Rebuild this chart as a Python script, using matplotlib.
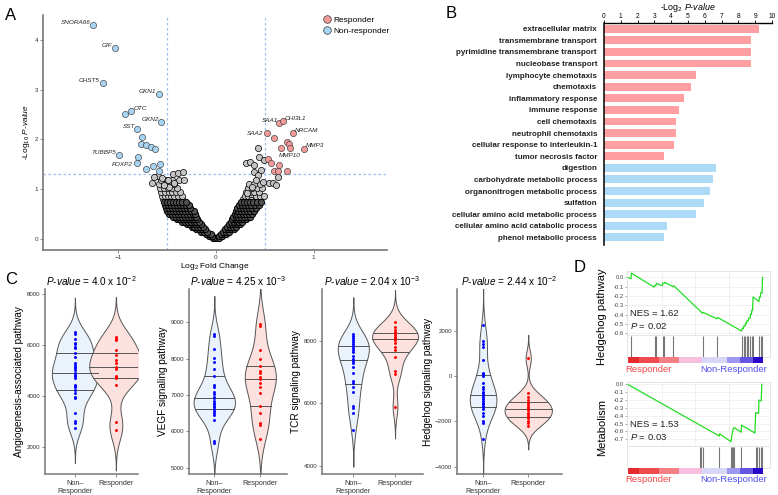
import numpy as np
import matplotlib
matplotlib.use('Agg')
import matplotlib.pyplot as plt
import seaborn as sns
from matplotlib.lines import Line2D

plt.rcParams['font.family'] = ['Liberation Sans', 'DejaVu Sans']
plt.rcParams['mathtext.fontset'] = 'custom'
plt.rcParams['mathtext.rm'] = 'Liberation Sans'
plt.rcParams['mathtext.it'] = 'Liberation Sans:italic'
plt.rcParams['mathtext.bf'] = 'Liberation Sans:bold'

# ---------------- A: volcano ----------------
# gray (non significant) genes, row by row: (-log10 p, [log2 fc ...])
gray_rows_dense = [
    (0.02, [-0.03, -0.01, 0.01, 0.03]),
    (0.06, [-0.07, -0.04, 0.03, 0.06]),
    (0.10, [-0.10, -0.07, -0.05, 0.05, 0.08, 0.10]),
    (0.15, [-0.15, -0.12, -0.09, 0.07, 0.10, 0.13]),
    (0.20, [-0.20, -0.17, -0.14, -0.11, 0.09, 0.12, 0.15, 0.18]),
    (0.25, [-0.25, -0.22, -0.19, -0.16, -0.13, 0.11, 0.14, 0.17, 0.20]),
    (0.30, [-0.30, -0.27, -0.24, -0.21, -0.18, -0.15, 0.13, 0.16, 0.19, 0.22, 0.25]),
    (0.35, [-0.35, -0.32, -0.29, -0.26, -0.23, -0.20, -0.17, 0.15, 0.18, 0.21, 0.24, 0.27]),
    (0.40, [-0.40, -0.37, -0.34, -0.31, -0.28, -0.25, -0.22, -0.19, 0.16, 0.19, 0.22, 0.25, 0.28, 0.31]),
    (0.45, [-0.44, -0.41, -0.38, -0.35, -0.32, -0.29, -0.26, -0.23, -0.20, 0.17, 0.20, 0.23, 0.26, 0.29, 0.32, 0.35]),
    (0.50, [-0.48, -0.45, -0.42, -0.39, -0.36, -0.33, -0.30, -0.27, -0.24, -0.21, 0.19, 0.22, 0.25, 0.28, 0.31, 0.34, 0.37]),
    (0.56, [-0.50, -0.47, -0.44, -0.41, -0.38, -0.35, -0.32, -0.29, -0.26, -0.23, 0.20, 0.23, 0.26, 0.29, 0.32, 0.35, 0.39]),
    (0.62, [-0.51, -0.48, -0.45, -0.42, -0.39, -0.36, -0.33, -0.30, -0.27, 0.22, 0.25, 0.28, 0.31, 0.34, 0.37, 0.41]),
    (0.68, [-0.52, -0.49, -0.46, -0.43, -0.40, -0.37, -0.34, -0.31, -0.28, 0.24, 0.27, 0.30, 0.33, 0.36, 0.40, 0.44]),
    (0.74, [-0.53, -0.50, -0.47, -0.44, -0.41, -0.38, -0.35, -0.31, 0.26, 0.29, 0.32, 0.35, 0.38, 0.42, 0.46]),
]
gray_rows_sparse = [
    (0.80, [-0.54, -0.51, -0.48, -0.45, -0.42, -0.39, -0.35, 0.28, 0.31, 0.34, 0.37, 0.41, 0.45]),
    (0.87, [-0.55, -0.52, -0.49, -0.46, -0.43, -0.39, -0.35, 0.30, 0.33, 0.37, 0.41, 0.45, 0.49]),
    (0.94, [-0.56, -0.52, -0.48, -0.45, -0.41, -0.37, 0.31, 0.35, 0.39, 0.44]),
    (1.02, [-0.57, -0.53, -0.49, -0.45, -0.40, 0.33, 0.37, 0.42, 0.47]),
    (1.10, [-0.58, -0.53, -0.48, -0.43, 0.34, 0.39, 0.45]),
    (1.18, [-0.56, -0.50, -0.45, -0.38]),
]
gray_extra_fc = [-0.653, -0.595, -0.548, -0.49, -0.44, -0.39, -0.34, -0.33, -0.425, -0.636, -0.476, -0.527,
                 0.425, 0.306, 0.35, 0.39, 0.44, 0.49, 0.39, 0.425, 0.46, 0.41, 0.37, 0.54, 0.58, 0.63, 0.61,
                 0.48, 0.32, 0.36]
gray_extra_p = [1.12, 1.27, 1.22, 1.19, 1.31, 1.32, 1.34, 1.19, 1.13, 1.25, 1.05, 1.09,
                1.82, 1.52, 1.55, 1.49, 1.65, 1.59, 1.35, 1.29, 1.39, 1.19, 1.05, 1.12, 1.13, 1.25, 1.09,
                1.15, 0.92, 0.78]

nr_fc = [-1.255, -1.03, -1.16, -0.58, -0.935, -0.874, -0.558, -0.813, -0.762, -0.769, -0.718, -0.670,
         -0.629, -0.997, -0.799, -0.813, -0.714, -0.640, -0.575, -0.585]
nr_p = [4.30, 3.83, 3.13, 2.91, 2.51, 2.57, 2.35, 2.22, 2.05, 1.90, 1.88, 1.85,
        1.81, 1.69, 1.64, 1.52, 1.41, 1.47, 1.50, 1.36]
r_fc = [0.646, 0.687, 0.789, 0.524, 0.592, 0.90, 0.731, 0.745, 0.758, 0.663, 0.537, 0.561, 0.64,
        0.589, 0.636, 0.724]
r_p = [2.33, 2.37, 2.13, 2.12, 2.03, 1.80, 1.94, 1.90, 1.82, 1.82, 1.60, 1.52, 1.48,
       1.37, 1.36, 1.37]

# gene label: (name, fc, p, dx, dy, ha, va)
gene_labels = [
    ("SNORA66", -1.255, 4.30, -2, 0, 'right', 'bottom'),
    ("GIF", -1.03, 3.83, -2, 0, 'right', 'bottom'),
    ("CHST5", -1.16, 3.13, -2, 0, 'right', 'bottom'),
    ("GKN1", -0.58, 2.91, -2, 0, 'right', 'bottom'),
    ("OTC", -0.874, 2.57, 2, 0, 'left', 'bottom'),
    ("GKN2", -0.558, 2.35, -2, 0, 'right', 'bottom'),
    ("SST", -0.813, 2.22, -1, 0, 'right', 'bottom'),
    ("TUBBP5", -0.997, 1.69, -2, 0, 'right', 'bottom'),
    ("FOXP2", -0.813, 1.52, -3, -1, 'right', 'center'),
    ("SAA1", 0.646, 2.33, -1, 0, 'right', 'bottom'),
    ("CHI3L1", 0.687, 2.37, 1, 0, 'left', 'bottom'),
    ("SAA2", 0.524, 2.12, -3, 0, 'right', 'center'),
    ("NRCAM", 0.789, 2.13, 1, 0, 'left', 'bottom'),
    ("MMP3", 0.90, 1.80, 1, 1, 'left', 'bottom'),
    ("MMP10", 0.758, 1.82, 0, -3, 'center', 'top'),
]

# ---------------- B: GO terms ----------------
go_terms = ["extracellular matrix", "transmembrane transport", "pyrimidine transmembrane transport",
            "nucleobase transport", "lymphocyte chemotaxis", "chemotaxis", "inflammatory response",
            "immune response", "cell chemotaxis", "neutrophil chemotaxis",
            "cellular response to interleukin-1", "tumor necrosis factor", "digestion",
            "carbohydrate metabolic process", "organonitrogen metabolic process", "sulfation",
            "cellular amino acid metabolic process", "cellular amino acid catabolic process",
            "phenol metabolic process"]
go_vals = [9.23, 8.73, 8.73, 8.73, 5.50, 5.18, 4.74, 4.45, 4.29, 4.27, 4.15, 3.55,
           6.65, 6.47, 6.31, 5.93, 5.48, 3.77, 3.59]
go_group = ["R"] * 12 + ["NR"] * 7

# ---------------- C: pathway scores ----------------
c1_nr = [6485, 6419, 6210, 6078, 6015, 5897, 5858, 5662, 5505, 5270, 5192, 5137, 5074, 5007, 4902,
         4811, 4772, 4682, 4419, 4380, 4353, 4223, 4118, 3961, 3898, 3334, 3020, 2942, 2722]
c1_r = [6289, 6234, 6183, 5791, 5583, 5399, 5270, 5113, 5058, 4772, 4721, 4682, 4408, 2981, 2655]
c2_nr = [8681, 8625, 8276, 8011, 7900, 7725, 7523, 7266, 7230, 7092, 7028, 6954, 6908, 6844, 6789,
         6752, 6697, 6660, 6614, 6568, 6513, 6449, 6311, 5742, 5687]
c2_r = [8956, 8901, 8240, 7983, 7799, 7670, 7597, 7505, 7432, 7321, 7211, 7046, 6697, 6495, 6220,
        6183, 5779]
c3_nr = [8218, 8154, 8090, 8026, 7962, 7888, 7834, 7781, 7706, 7653, 7514, 7429, 7365, 7280, 7152,
         6981, 6725, 6661, 6512, 6373, 5915, 5851, 5680, 5147]
c3_r = [8612, 8432, 8346, 8293, 8240, 8186, 8133, 8080, 8026, 7920, 7813, 7706, 7493, 7045, 6938,
        5893]
c4_nr = [2252, 1560, 1413, 1295, 706, 147, 88, 0, -294, -471, -589, -692, -765, -853, -942, -1030,
         -1089, -1177, -1236, -1325, -1383, -1472, -1619, -1766, -1972, -2060, -2796]
c4_r = [780, -765, -912, -1060, -1177, -1280, -1354, -1427, -1501, -1619, -1678, -1766, -1869, -1972,
        -2090, -2207]
c_titles = ["4.0 x 10$^{-2}$", "4.25 x 10$^{-3}$", "2.04 x 10$^{-3}$", "2.44 x 10$^{-2}$"]
c_ylabels = ["Angiogenesis-associated pathway", "VEGF signaling pathway", "TCR signaling pathway",
             "Hedgehog signaling pathway"]
c_yticks = [[2000, 4000, 6000, 8000], [5000, 6000, 7000, 8000, 9000], [4000, 6000, 8000],
            [-4000, -2000, 0, 2000]]

# ---------------- D: GSEA ----------------
es1_x = [0.0, 0.025, 0.027, 0.196, 0.200, 0.208, 0.212, 0.255, 0.260, 0.270, 0.275, 0.336, 0.340,
         0.552, 0.556, 0.660, 0.664, 0.840, 0.845, 0.853, 0.857, 0.866, 0.870, 0.876, 0.880, 0.889,
         0.893, 0.903, 0.907, 0.913, 0.917, 0.921, 0.925, 0.968, 0.972, 0.978, 0.982, 0.991, 0.995]
es1_y = [0.0, -0.015, 0.045, -0.105, -0.085, -0.09, -0.065, -0.09, -0.06, -0.065, -0.055, -0.10,
         -0.09, -0.385, -0.375, -0.445, -0.43, -0.575, -0.545, -0.55, -0.52, -0.525, -0.49, -0.495,
         -0.465, -0.47, -0.435, -0.44, -0.39, -0.395, -0.35, -0.355, -0.21, -0.26, -0.21, -0.215,
         -0.165, -0.17, 0.0]
hits1 = [0.027, 0.199, 0.208, 0.257, 0.270, 0.338, 0.554, 0.662, 0.843, 0.855, 0.868, 0.877, 0.890,
         0.904, 0.914, 0.922, 0.971, 0.980, 0.993]
es2_x = [0.0, 0.676, 0.678, 0.762, 0.766, 0.772, 0.778, 0.784, 0.838, 0.840, 0.939, 0.944, 0.966,
         0.968, 0.985, 0.990]
es2_y = [0.0, -0.658, -0.63, -0.73, -0.68, -0.62, -0.57, -0.55, -0.61, -0.52, -0.62, -0.36, -0.37,
         -0.20, -0.21, 0.0]
hits2 = [0.534, 0.542, 0.554, 0.676, 0.762, 0.770, 0.777, 0.782, 0.838, 0.944, 0.956, 0.968, 0.985,
         0.993]

W, H = 778, 495
fig = plt.figure(figsize=(W / 100, H / 100), dpi=100)


def px_axes(l, t, r, b):
    return fig.add_axes([l / W, 1 - b / H, (r - l) / W, (b - t) / H])


# ---- panel A
axA = px_axes(43, 15, 387, 250)
dfc = [x for y, xs in gray_rows_dense for x in xs]
dp = [y for y, xs in gray_rows_dense for x in xs]
sfc = [x for y, xs in gray_rows_sparse for x in xs] + gray_extra_fc
sp = [y for y, xs in gray_rows_sparse for x in xs] + gray_extra_p
axA.scatter(sfc, sp, s=20, facecolor='#C4C4C4', edgecolor='black', linewidth=0.5, zorder=2)
axA.scatter(dfc, dp, s=20, facecolor='#505050', edgecolor='black', linewidth=0.7, zorder=2)
axA.scatter(nr_fc, nr_p, s=20, facecolor='#A6D4F2', edgecolor='#3a3a3a', linewidth=0.45, zorder=3)
axA.scatter(r_fc, r_p, s=20, facecolor='#F29A9A', edgecolor='#3a3a3a', linewidth=0.45, zorder=3)
for v in (-0.5, 0.5):
    axA.axvline(v, color='#9DBDF2', ls=(0, (2, 2)), lw=0.9, zorder=1)
axA.axhline(1.3, color='#9DBDF2', ls=(0, (2, 2)), lw=0.9, zorder=1)
for name, x, y, dx, dy, ha, va in gene_labels:
    axA.annotate(name, (x, y), xytext=(dx, dy), textcoords='offset points', ha=ha, va=va,
                 fontsize=4.6, style='italic', color='#222222')
axA.set_xlim(-1.77, 1.75)
axA.set_ylim(-0.22, 4.5)
axA.set_xticks([-1, 0, 1])
axA.set_yticks([0, 1, 2, 3, 4])
for s in ('top', 'right'):
    axA.spines[s].set_visible(False)
for s in ('left', 'bottom'):
    axA.spines[s].set_color('#777777')
    axA.spines[s].set_linewidth(1.2)
axA.tick_params(labelsize=4.6, length=2, width=0.6, color='#777777', labelcolor='#333333', pad=1.5)
axA.set_xlabel("Log$_2$ Fold Change", fontsize=6, labelpad=1)
axA.set_ylabel("-Log$_{10}$ $\\mathit{P}$-$\\mathit{value}$", fontsize=6, labelpad=1.5)
handles = [Line2D([], [], ls='none', marker='o', ms=5.5, mfc='#F29A9A', mec='#3a3a3a', mew=0.5),
           Line2D([], [], ls='none', marker='o', ms=5.5, mfc='#A6D4F2', mec='#3a3a3a', mew=0.5)]
axA.legend(handles, ["Responder", "Non-responder"], loc='upper left', bbox_to_anchor=(318 / W, 1 - 12 / H),
           bbox_transform=fig.transFigure, frameon=False, fontsize=6, handletextpad=0.2,
           labelspacing=0.35, borderpad=0, handlelength=1.2)

# ---- panel B
axB = px_axes(604, 23, 772, 245)
ypos = np.arange(len(go_terms))
cols = ['#FF9FA1' if g == "R" else '#ADDBF7' for g in go_group]
axB.barh(ypos, go_vals, height=0.68, color=cols)
axB.set_xlim(0, 10)
axB.set_ylim(18.66, -0.5)
axB.set_xticks(range(11))
axB.xaxis.tick_top()
axB.set_yticks(ypos)
axB.set_yticklabels(go_terms, fontsize=5.8, fontweight='bold', color='#222222')
axB.tick_params(axis='y', length=0, pad=5)
axB.tick_params(axis='x', labelsize=4.8, length=2, width=0.6, pad=0.3)
fig.text(688 / W, 1 - 1 / H, "-Log$_2$ $\\mathit{P}$-$\\mathit{value}$", fontsize=6.4, ha='center', va='top')
for s in ('bottom', 'right'):
    axB.spines[s].set_visible(False)
axB.spines['top'].set_linewidth(1)
axB.spines['left'].set_linewidth(1.1)

# ---- panel C
c_data = [(c1_nr, c1_r), (c2_nr, c2_r), (c3_nr, c3_r), (c4_nr, c4_r)]
c_boxes = [(45, 289, 138, 474), (189, 289, 287, 474), (322, 289, 423, 474), (457, 289, 562, 474)]
c_xlims = [(-0.73, 1.54), (-0.55, 1.58), (-0.75, 1.67), (-0.58, 1.75)]
c_ylims = [(930, 8183), (4824, 9920), (3738, 9658), (-4327, 3841)]
c_widths = [1.3, 0.9, 1.1, 1.05]
for i in range(4):
    ax = px_axes(*c_boxes[i])
    nr, r = c_data[i]
    vals = nr + r
    grp = ["NR"] * len(nr) + ["R"] * len(r)
    sns.violinplot(x=grp, y=vals, hue=grp, palette=['#EAF3FC', '#FDE1DE'], inner='quart', cut=3,
                   bw_adjust=0.85, width=c_widths[i], density_norm='area', common_norm=True,
                   linecolor='#555555', linewidth=0.7, saturation=1, legend=False, ax=ax)
    for ln in ax.lines:
        ln.set_linestyle('-')
        ln.set_color('#555555')
        ln.set_linewidth(0.7)
    ax.scatter([0] * len(nr), nr, s=4.5, color='#0000FF', linewidth=0, zorder=4)
    ax.scatter([1] * len(r), r, s=4.5, color='#FF0000', linewidth=0, zorder=4)
    ax.set_xlim(*c_xlims[i])
    ax.set_ylim(*c_ylims[i])
    ax.set_xticks([0, 1])
    ax.set_xticklabels(["Non\u2013\nResponder", "Responder"], fontsize=5.2, color='#333333')
    ax.set_yticks(c_yticks[i])
    ax.tick_params(axis='y', labelsize=4.4, length=2, width=0.6, color='#777777', labelcolor='#333333', pad=1.5)
    ax.tick_params(axis='x', length=2, width=0.6, color='#777777', pad=2)
    ax.set_xlabel("")
    ax.set_ylabel(c_ylabels[i], fontsize=7.2, labelpad=1.5)
    for s in ('top', 'right'):
        ax.spines[s].set_visible(False)
    for s in ('left', 'bottom'):
        ax.spines[s].set_color('#777777')
        ax.spines[s].set_linewidth(1.1)
    ax.set_title("$\\mathit{P}$-$\\mathit{value}$ = " + c_titles[i], fontsize=7.2, pad=2)

# ---- panel D
bar_edges = [0, 0.081, 0.228, 0.375, 0.547, 0.730, 0.828, 0.926, 1.0]
bar_cols = ['#E52A2E', '#EE4B4E', '#F48086', '#F7BEDF', '#D9D7F7', '#9C98EF', '#6655E2', '#2A06C8']


def gsea(top, es_x, es_y, hits, yt, ylo, yhi, nes, pv, name):
    ax = px_axes(627, top, 770, top + 64)
    ax.plot(es_x, es_y, color='#22DD22', lw=0.9)
    ax.set_xlim(-0.005, 1.05)
    ax.set_ylim(ylo, yhi)
    ax.set_yticks(yt)
    ax.set_yticklabels([f"{v:.1f}" for v in yt])
    ax.set_xticks([0.25, 0.5, 0.75])
    ax.tick_params(axis='x', length=0, labelbottom=False)
    ax.tick_params(axis='y', labelsize=4.2, length=1.5, width=0.5, pad=1, color='#888888', labelcolor='#444444')
    ax.grid(color='#EBEBEB', lw=0.5)
    ax.set_axisbelow(True)
    for s in ax.spines.values():
        s.set_color('#E0E0E0')
        s.set_linewidth(0.6)
    ax.text(0.02, 0.30, f"NES = {nes}", transform=ax.transAxes, fontsize=6.8, color='#222222')
    ax.text(0.02, 0.10, "$\\mathit{P}$ = " + pv, transform=ax.transAxes, fontsize=6.8, color='#222222')
    hx = px_axes(627, top + 64, 770, top + 86)
    hx.vlines(hits, 0, 1, color='#777777', lw=0.8)
    hx.set_xlim(-0.005, 1.05)
    hx.set_ylim(0, 1.05)
    hx.set_xticks([])
    hx.set_yticks([])
    for s in hx.spines.values():
        s.set_color('#E0E0E0')
        s.set_linewidth(0.6)
    bx = px_axes(627, top + 86, 770, top + 92)
    for j in range(len(bar_cols)):
        bx.axvspan(bar_edges[j], bar_edges[j + 1], color=bar_cols[j], lw=0)
    bx.set_xlim(-0.005, 1.05)
    bx.axis('off')
    fig.text(625 / W, 1 - (top + 98) / H, "Responder", color='#F04848', fontsize=6.8, va='center')
    fig.text(767 / W, 1 - (top + 98) / H, "Non-Responder", color='#5050EE', fontsize=6.8, va='center',
             ha='right')
    fig.text(602 / W, 1 - (top + 46) / H, name, rotation=90, fontsize=8, ha='center', va='center')


gsea(271, es1_x, es1_y, hits1, [0.0, -0.1, -0.2, -0.3, -0.4, -0.5, -0.6], -0.618, 0.068,
     "1.62", "0.02", "Hedgehog pathway")
gsea(382, es2_x, es2_y, hits2, [0.0, -0.1, -0.2, -0.3, -0.4, -0.5, -0.6, -0.7], -0.785, 0.03,
     "1.53", "0.03", "Metabolism")

# panel letters
for letter, x, y in [("A", 5, 15), ("B", 446, 14), ("C", 5, 279), ("D", 574, 268)]:
    fig.text(x / W, 1 - y / H, letter, fontsize=12, va='center', ha='left')

fig.savefig("out.png", dpi=100)
